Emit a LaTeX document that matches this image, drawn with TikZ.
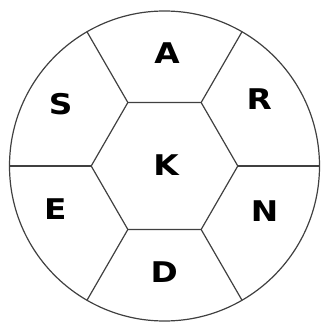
\documentclass[tikz,border=0pt]{standalone}
\usepackage{fontspec}
\newfontfamily\heavy{DejaVu Sans Bold}
\begin{document}
\begin{tikzpicture}[x=1pt,y=-1pt,
  line/.style={draw=black!75,line width=1.2pt},
  letter/.style={font=\fontsize{28.5}{30}\selectfont\heavy,xscale=1.15,inner sep=0pt,anchor=center}]
\useasboundingbox (0,0) rectangle (322,323);
\coordinate (C) at (164.5,166);
\foreach \i in {0,...,5} {
  \coordinate (h\i) at ([shift={(C)}]{60*\i}:73.3);
  \coordinate (o\i) at ([shift={(C)}]{60*\i}:155);
}
\draw[line] (C) circle[radius=155];
\draw[line] (h0)--(h1)--(h2)--(h3)--(h4)--(h5)--cycle;
\foreach \i in {0,...,5} {
  \draw[line] (h\i) -- (o\i);
}
\node[letter] (A) at (167,53) {A};
\node[letter] (R) at (259.3,98.7) {R};
\node[letter] (N) at (264.7,210.7) {N};
\node[letter] (D) at (164.3,271.8) {D};
\node[letter] (E) at (55.3,208.8) {E};
\node[letter] (S) at (60.8,104.2) {S};
\node[letter] (K) at (166,165.3) {K};
\end{tikzpicture}
\end{document}
